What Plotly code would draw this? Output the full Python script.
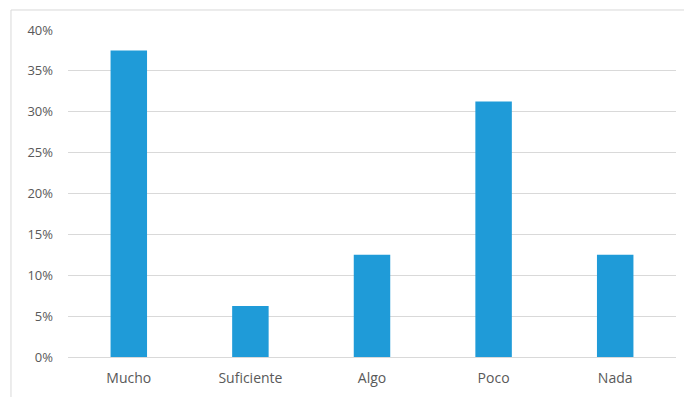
import plotly.graph_objects as go

# Survey answers and their share of responses (percent)
categories = ["Mucho", "Suficiente", "Algo", "Poco", "Nada"]
shares = [37.5, 6.25, 12.5, 31.25, 12.5]
tick_values = [0, 5, 10, 15, 20, 25, 30, 35, 40]
tick_labels = [f"{v}%" for v in tick_values]

BAR_COLOR = "#1F9BD8"
TEXT_COLOR = "#595959"
GRID_COLOR = "#D9D9D9"

fig = go.Figure(
    go.Bar(
        x=categories,
        y=shares,
        marker=dict(color=BAR_COLOR, line=dict(width=0)),
        width=0.3,
        hoverinfo="x+y",
    )
)

fig.update_layout(
    width=684,
    height=397,
    margin=dict(l=68, r=8, t=30, b=40),
    paper_bgcolor="white",
    plot_bgcolor="white",
    showlegend=False,
    font=dict(family="Open Sans, Liberation Sans, sans-serif", size=13, color=TEXT_COLOR),
    xaxis=dict(
        showline=False,
        showgrid=False,
        ticks="",
        tickfont=dict(size=14, color=TEXT_COLOR),
        ticklabelstandoff=11,
    ),
    yaxis=dict(
        range=[0, 40],
        tickvals=tick_values,
        ticktext=tick_labels,
        showgrid=True,
        gridcolor=GRID_COLOR,
        gridwidth=1,
        zeroline=True,
        zerolinecolor=GRID_COLOR,
        zerolinewidth=1,
        showline=False,
        ticks="",
        tickfont=dict(size=13, color=TEXT_COLOR),
        ticklabelstandoff=14,
    ),
    shapes=[
        # chart-area frame
        dict(
            type="rect",
            xref="paper",
            yref="paper",
            x0=-0.0938,
            x1=1.03,
            y0=-0.15,
            y1=1.0612,
            line=dict(color="#D9D9D9", width=1),
            fillcolor="rgba(0,0,0,0)",
            layer="below",
        )
    ],
)

fig.write_html("out.html")
